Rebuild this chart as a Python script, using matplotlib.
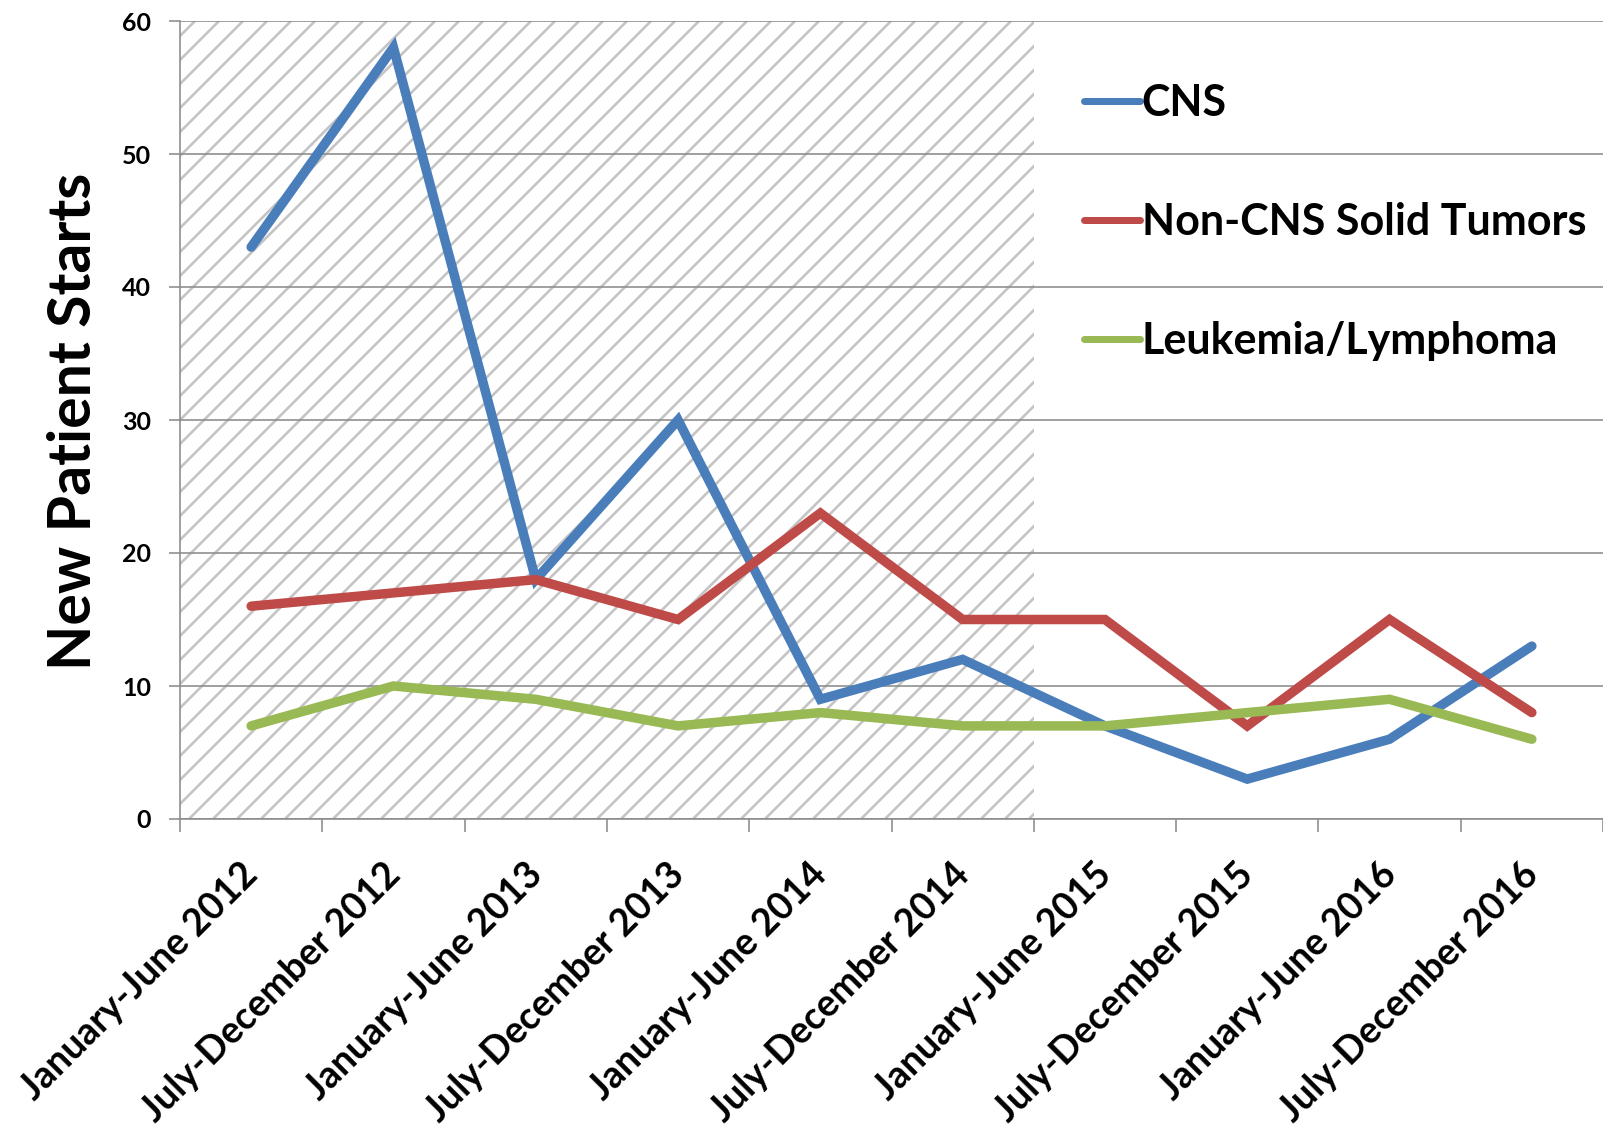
import matplotlib
matplotlib.use("Agg")
import matplotlib.pyplot as plt
import matplotlib.transforms as mtransforms
import numpy as np

categories = ["January-June 2012", "July-December 2012", "January-June 2013",
              "July-December 2013", "January-June 2014", "July-December 2014",
              "January-June 2015", "July-December 2015", "January-June 2016",
              "July-December 2016"]
cns = [43, 58, 18, 30, 9, 12, 7, 3, 6, 13]
non_cns = [16, 17, 18, 15, 23, 15, 15, 7, 15, 8]
leuk = [7, 10, 9, 7, 8, 7, 7, 8, 9, 6]
series_names = ["CNS", "Non-CNS Solid Tumors", "Leukemia/Lymphoma"]
y_ticks = [0, 10, 20, 30, 40, 50, 60]
hatched_upto = 6  # first 6 categories are shaded

plt.rcParams['font.family'] = ['Lato', 'DejaVu Sans']
plt.rcParams['font.weight'] = 'bold'
plt.rcParams['hatch.linewidth'] = 2.6

DPI = 72
fig = plt.figure(figsize=(1603 / DPI, 1137 / DPI), dpi=DPI)
ax = fig.add_axes([180 / 1603, 1 - 819 / 1137, 1 - 180 / 1603, (819 - 21) / 1137])

x = np.arange(len(categories))
grid_c = '#8C8C8C'

ax.axvspan(-0.5, hatched_upto - 0.5, facecolor='white', edgecolor='#C4C4C4',
           hatch='/', linewidth=0, zorder=0)

colors = ['#4A7EBB', '#BE4B48', '#98B954']
for vals, name, c in zip([cns, non_cns, leuk], series_names, colors):
    ax.plot(x, vals, color=c, lw=9.5, solid_capstyle='round', solid_joinstyle='miter',
            label=name, zorder=3)

ax.set_xlim(-0.5, len(categories) - 0.5)
ax.set_ylim(0, 60)
ax.set_yticks(y_ticks)
ax.set_yticklabels([str(v) for v in y_ticks])
ax.yaxis.grid(True, color=grid_c, lw=1.6, zorder=1)
ax.set_axisbelow(True)

ax.set_xticks(np.arange(-0.5, len(categories)), minor=False)
ax.set_xticklabels([])
ax.set_xticks(x, minor=True)
ax.set_xticklabels(categories, minor=True, rotation=45, ha='right', va='center',
                   rotation_mode='anchor', fontsize=37.5, fontweight='bold')
ax.tick_params(axis='x', which='minor', length=0, pad=34)
ax.tick_params(axis='x', which='major', length=13, width=1.6, color=grid_c)
ax.tick_params(axis='y', length=11, width=1.6, color=grid_c, pad=18, labelsize=25)
for lab in ax.get_yticklabels():
    lab.set_fontweight('bold')

for s in ['top', 'right']:
    ax.spines[s].set_visible(False)
for s in ['left', 'bottom']:
    ax.spines[s].set_color(grid_c)
    ax.spines[s].set_linewidth(1.6)

fig.text(74 / 1603, 1 - 421 / 1137, "New Patient Starts", rotation=90,
         ha='center', va='center', fontsize=59, fontweight='bold')

leg = ax.legend(loc='upper left', bbox_to_anchor=(0.635, 0.922), frameon=False,
                fontsize=43, handlelength=1.3, handletextpad=0.05,
                labelspacing=1.83, borderpad=0, borderaxespad=0)
for t in leg.get_texts():
    t.set_fontweight('bold')
for h in leg.get_lines():
    h.set_linewidth(7)

# nudge the rotated category labels slightly down
for tick in ax.xaxis.get_minor_ticks():
    lab = tick.label1
    lab.set_transform(mtransforms.offset_copy(lab.get_transform(), fig=fig,
                                              x=1, y=-16, units='dots'))

fig.savefig("out.png", dpi=DPI)
